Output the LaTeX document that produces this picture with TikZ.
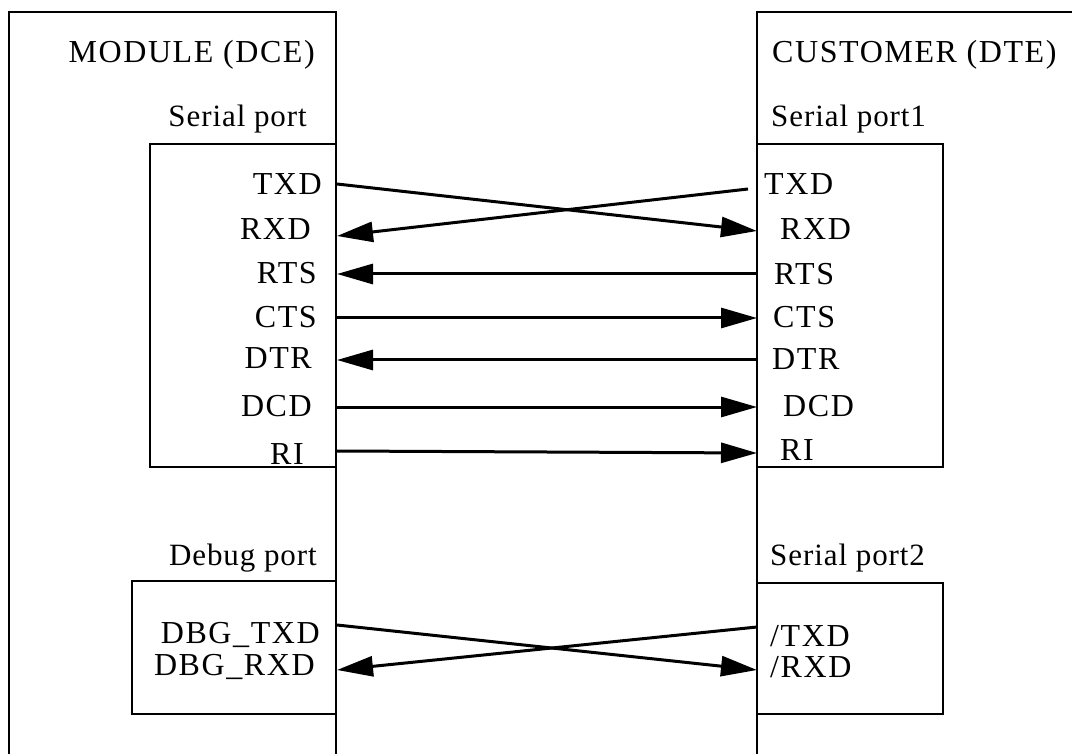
\documentclass[tikz,border=0pt]{standalone}
\usepackage{fontspec}
\setmainfont{Liberation Serif}[LetterSpace=5]
\usetikzlibrary{arrows.meta}
\begin{document}
\begin{tikzpicture}[x=1pt,y=-1pt,
  box/.style={draw=black,line width=2pt},
  lbl/.style={inner sep=0pt,font=\fontsize{32}{38}\selectfont},
  port/.style={inner sep=0pt,font=\fontsize{31}{37}\selectfont\addfontfeatures{LetterSpace=3}},
  sig/.style={line width=3pt,-{Triangle[length=36pt,width=20pt]}}]
\useasboundingbox (0,0) rectangle (1072,754);
\clip (0,0) rectangle (1072,754);
% outer boxes
\draw[box] (9,800) -- (9,12) -- (336,12) -- (336,800);
\draw[box] (757,800) -- (757,12) -- (1100,12);
% port boxes
\draw[box] (336,144) -- (150,144) -- (150,467) -- (336,467);
\draw[box] (757,144) -- (943,144) -- (943,467) -- (757,467);
\draw[box] (336,581) -- (132,581) -- (132,714) -- (336,714);
\draw[box] (757,583) -- (943,583) -- (943,714) -- (757,714);
% titles
\node[lbl,anchor=base east] (module) at (315,63) {MODULE (DCE)};
\node[port,anchor=base east] (sp) at (307,127) {Serial port};
\node[port,anchor=base east] (dp) at (317,565) {Debug port};
\node[lbl,anchor=base west] (cust) at (772,63) {CUSTOMER (DTE)};
\node[port,anchor=base west] (sp1) at (771,127) {Serial port1};
\node[port,anchor=base west] (sp2) at (770,565) {Serial port2};
% left signal labels
\node[lbl,anchor=base east] (lTXD) at (322,195) {TXD};
\node[lbl,anchor=base east] (lRXD) at (311,240) {RXD};
\node[lbl,anchor=base east] (lRTS) at (317,284) {RTS};
\node[lbl,anchor=base east] (lCTS) at (317,327) {CTS};
\node[lbl,anchor=base east] (lDTR) at (312,369) {DTR};
\node[lbl,anchor=base east] (lDCD) at (312,416) {DCD};
\node[lbl,anchor=base east] (lRI) at (304,464) {RI};
\node[lbl,anchor=base east] (lDT) at (320,643) {DBG\_TXD};
\node[lbl,anchor=base east] (lDR) at (315,675) {DBG\_RXD};
% right signal labels
\node[lbl,anchor=base west] (rTXD) at (764,195) {TXD};
\node[lbl,anchor=base west] (rRXD) at (780,240) {RXD};
\node[lbl,anchor=base west] (rRTS) at (774,285) {RTS};
\node[lbl,anchor=base west] (rCTS) at (773,328) {CTS};
\node[lbl,anchor=base west] (rDTR) at (772,370) {DTR};
\node[lbl,anchor=base west] (rDCD) at (783,417) {DCD};
\node[lbl,anchor=base west] (rRI) at (780,460) {RI};
\node[lbl,anchor=base west] (rDT) at (770,646) {/TXD};
\node[lbl,anchor=base west] (rDR) at (770,677) {/RXD};
% pin coordinates
\coordinate (pL1) at (337,184);
\coordinate (pR1) at (757,231);
\coordinate (pR2) at (748,189);
\coordinate (pL2) at (337,236);
\coordinate (pR3) at (757,274);
\coordinate (pL3) at (337,274);
\coordinate (pL4) at (337,318);
\coordinate (pR4) at (757,318);
\coordinate (pR5) at (757,360);
\coordinate (pL5) at (337,360);
\coordinate (pL6) at (337,407);
\coordinate (pR6) at (757,407);
\coordinate (pL7) at (337,451);
\coordinate (pR7) at (757,453);
\coordinate (pL8) at (337,625);
\coordinate (pR8) at (757,670);
\coordinate (pR9) at (757,627);
\coordinate (pL9) at (337,670);
% connectors
\draw[sig] (pL1) -- (pR1);
\draw[sig] (pR2) -- (pL2);
\draw[sig] (pR3) -- (pL3);
\draw[sig] (pL4) -- (pR4);
\draw[sig] (pR5) -- (pL5);
\draw[sig] (pL6) -- (pR6);
\draw[sig] (pL7) -- (pR7);
\draw[sig] (pL8) -- (pR8);
\draw[sig] (pR9) -- (pL9);
\end{tikzpicture}
\end{document}
